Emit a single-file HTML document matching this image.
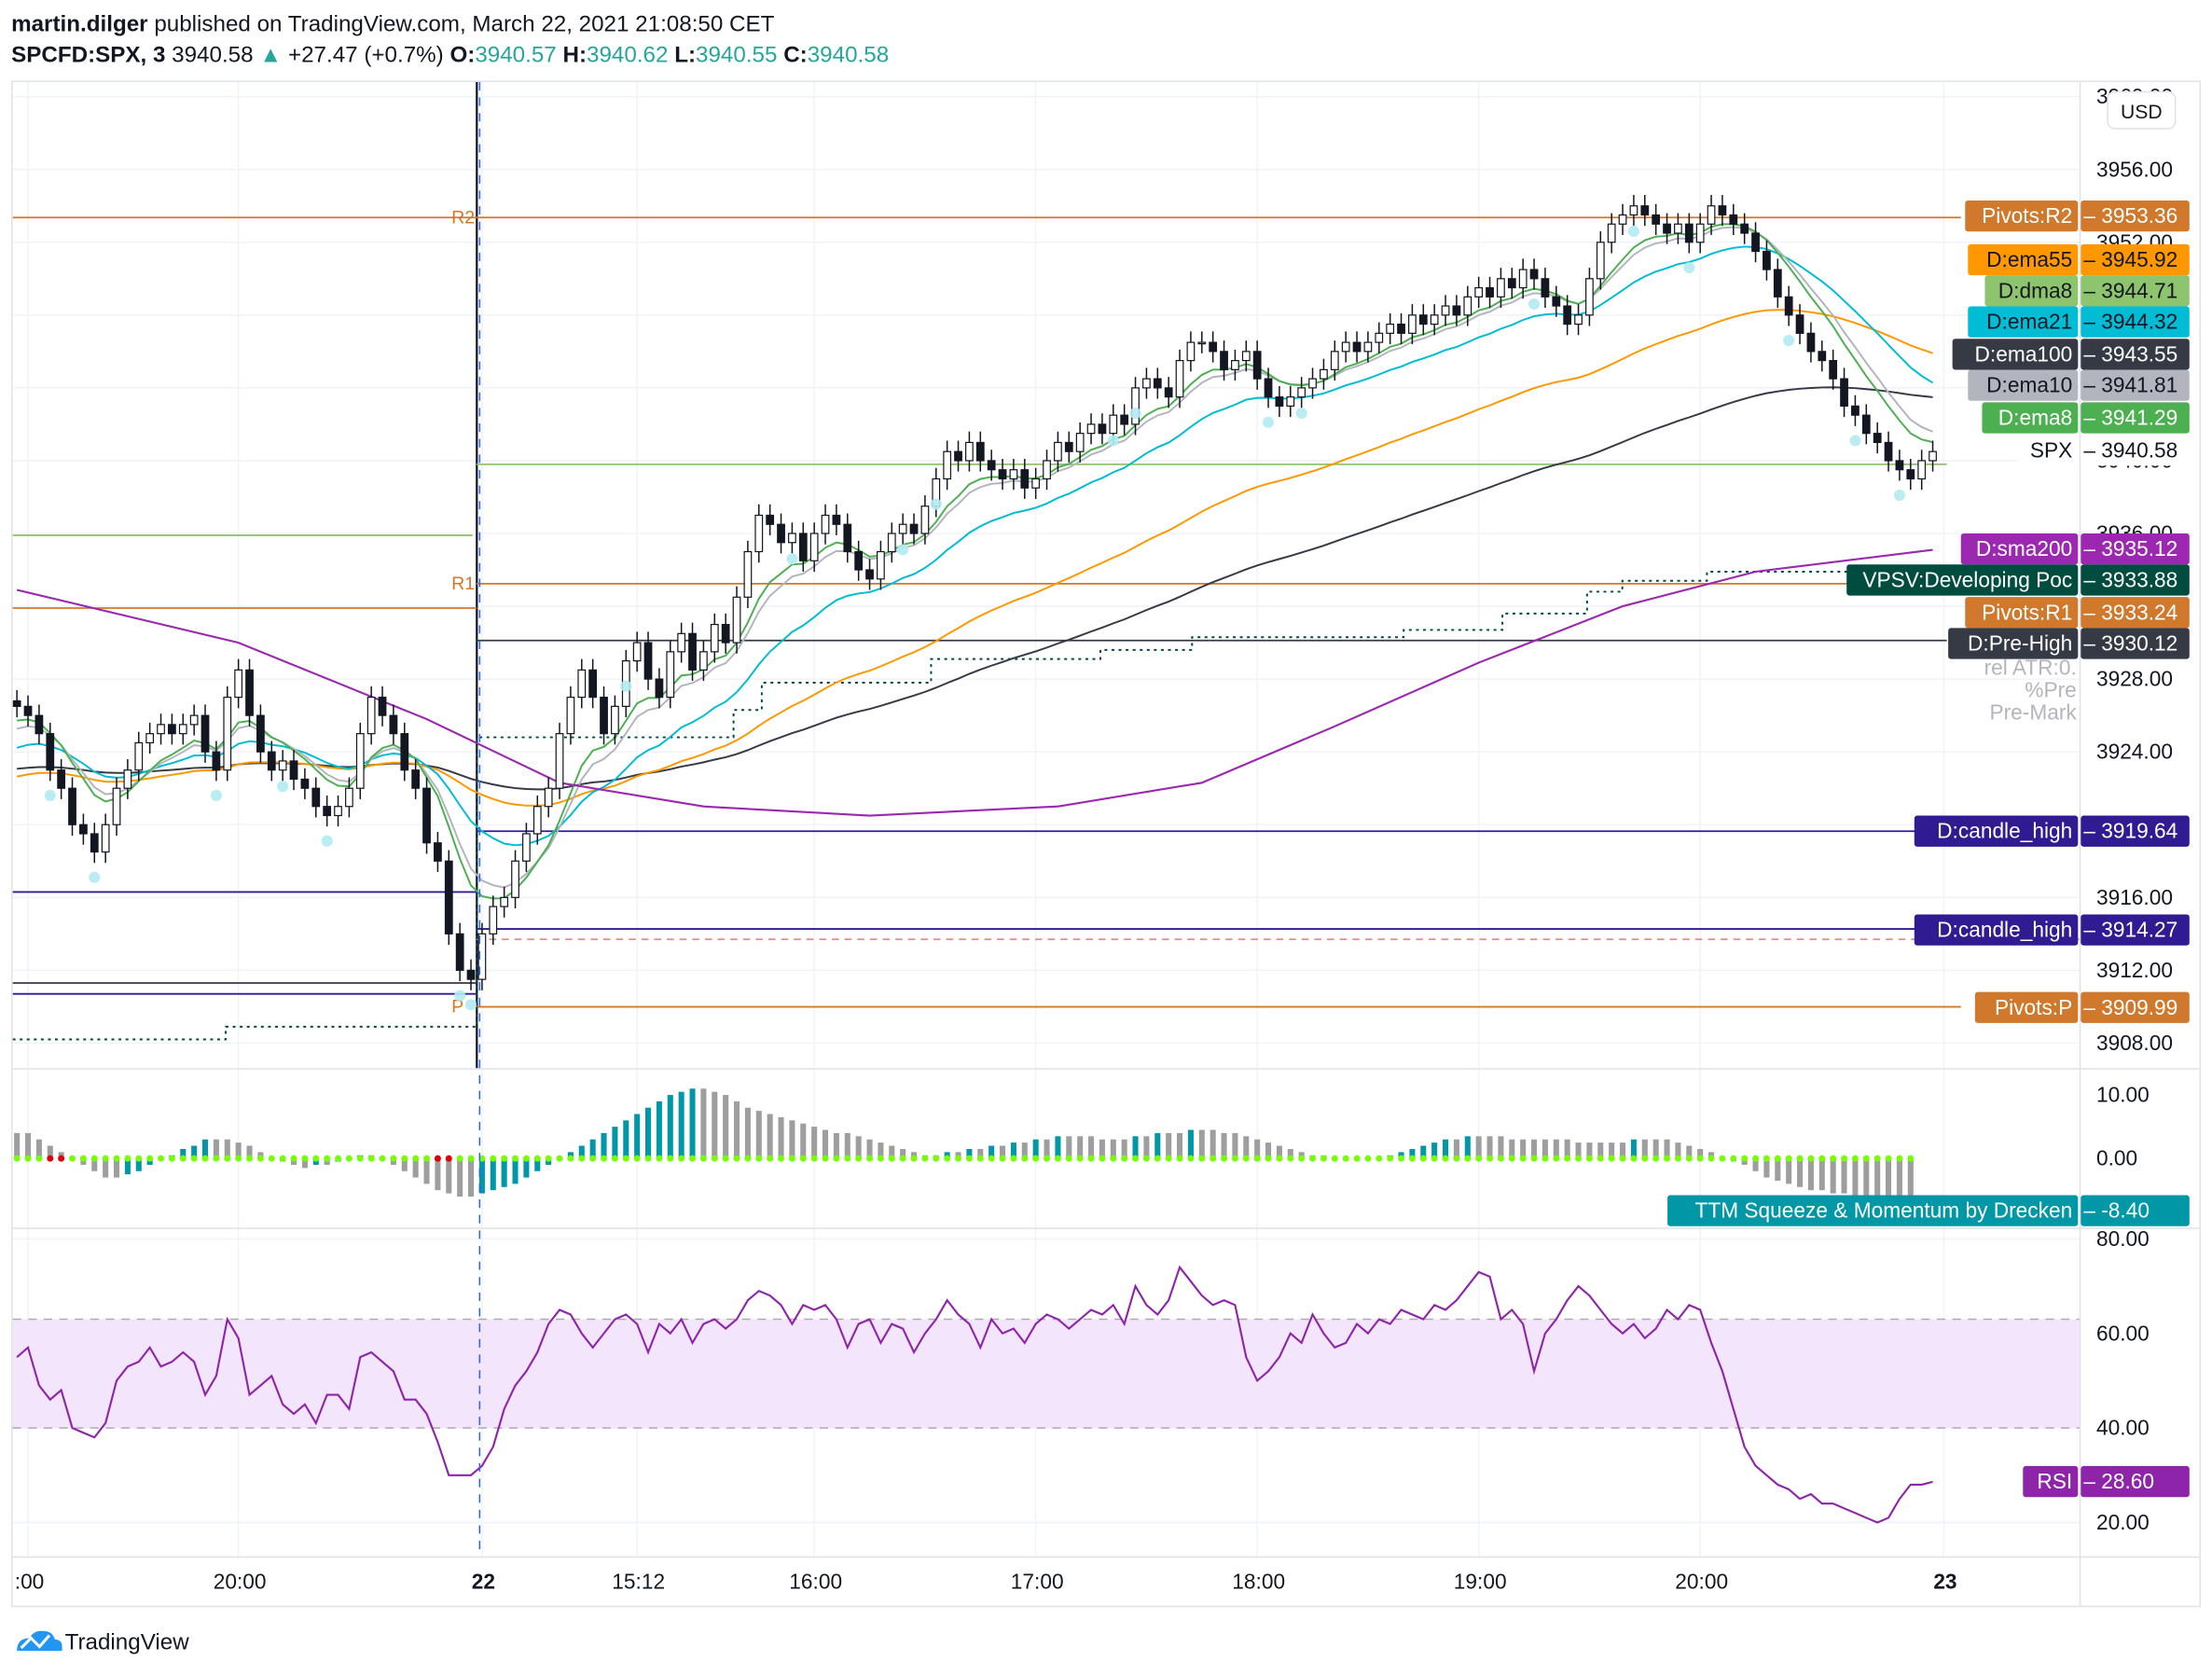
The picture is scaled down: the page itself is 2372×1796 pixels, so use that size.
<!DOCTYPE html>
<html><head><meta charset="utf-8">
<style>
html,body{margin:0;padding:0;background:#fff;}
svg{display:block;font-family:"Liberation Sans","DejaVu Sans",sans-serif;}
</style></head>
<body>
<svg id="c" width="2372" height="1796" viewBox="0 0 1568 1187" xmlns="http://www.w3.org/2000/svg">
<rect width="1568" height="1187" fill="#fff"/>
<text x="8" y="22" font-size="16" fill="#131722"><tspan font-weight="bold">martin.dilger</tspan> published on TradingView.com, March 22, 2021 21:08:50 CET</text>
<text x="8" y="44" font-size="16" fill="#131722"><tspan font-weight="bold">SPCFD:SPX, 3</tspan> 3940.58 <tspan fill="#26a69a">▲</tspan> +27.47 (+0.7%) <tspan font-weight="bold">O:</tspan><tspan fill="#26a69a">3940.57</tspan> <tspan font-weight="bold">H:</tspan><tspan fill="#26a69a">3940.62</tspan> <tspan font-weight="bold">L:</tspan><tspan fill="#26a69a">3940.55</tspan> <tspan font-weight="bold">C:</tspan><tspan fill="#26a69a">3940.58</tspan></text>
<rect x="8.5" y="57.5" width="1551" height="1081" fill="none" stroke="#dfe2ea"/>
<g id="grid"></g>
<g id="main" clip-path="url(#mc)"></g>
<g id="sq"></g>
<g id="rsi"></g>
<g id="axes"></g>
<g id="labels"></g>
<clipPath id="mc"><rect x="9" y="58" width="1465" height="699"/></clipPath>
<g>
<path d="M12 1170 q0-9 9-9 q3-6 10-5 q6 0 8 6 q5 0 5 5 v3 h-32z" fill="#2196f3"/>
<polyline points="15,1168 22,1161 28,1167 35,1159" fill="none" stroke="#fff" stroke-width="2"/>
<text x="46" y="1169" font-size="16" fill="#131722">TradingView</text>
</g>
</svg>
<script>
const closesPre=[3926.5,3926,3925,3923,3922,3920,3919.5,3918.5,3920,3922,3923,3924.5,3925,3925.5,3925,3925.5,3926,3924,3923,3927,3928.5,3926,3924,3923,3923.5,3922.5,3922,3921,3920.5,3921,3922,3925,3927,3926,3925,3923,3922,3919,3918,3914,3912,3911.5];
const closesSession=[3914,3915.5,3916,3918,3919.5,3921,3922,3925,3927,3928.5,
3927,3925,3926.5,3929,3930,3928,3927,3929.5,3930.5,3928.5,3929.5,3931,3930,3932.5,3935,
3937,3936.5,3935.5,3936,3934.5,3936,3937,3936.5,3935,3934,3933.5,3935,3936,3936.5,3936,
3937.5,3939,3940.5,3940,3941,3940,3939.5,3939,3939.5,3938.5,3939,3940,3941,3940.5,3941.5,
3942,3941.5,3942.5,3942,3944,3944.5,3944,3943.5,3945.5,3946.5,3946.5,3946,3945,3945.5,3946,
3944.5,3943.5,3943,3943.5,3944,3944.5,3945,3946,3946.5,3946,3946.5,3947,3947.5,3947,3948,
3947.5,3948,3948.5,3948,3949,3949.5,3949,3950,3949.5,3950.5,3950,3949,3948.5,3947.5,3948,
3950,3952,3953,3953.5,3954,3953.5,3953,3952.5,3953,3952,3953,3954,3953.5,3953,3952.5,
3951.5,3950.5,3949,3948,3947,3946,3945.5,3944.5,3943,3942.5,3941.5,3941,3940,3939.5,3939,3940,3940.5];
const sqzValues=[4,4,3,2,1,0,-1,-2,-3,-3,-2.5,-2,-1,0,0.5,1.5,2,3,3,3,2.5,2,1,0,-0.5,-1,-1.5,-1,-1,-0.5,0,0.5,0.5,0,-1,-2,-3,-4,-5,-5.5,-6,-6,
-5.5,-5,-4.5,-4,-3,-2,-1,0,1,2,3,4,5,6,7,8,9,10,10.5,11,11,10.5,10,9,8,7.5,7,6.5,6,5.5,5,4.5,4,4,3.5,3,2.5,2,1.5,1,0.5,0.5,1,1,1.5,1.5,2,2,2.5,2.5,3,3,3.5,3.5,3.5,3.5,3,3,3,3.5,3.5,4,4,4,4.5,4.5,4.5,4,4,3.5,3,2.5,2,1.5,1,0.5,0.5,0,0,0,0,0,0.5,1,1.5,2,2.5,3,3,3.5,3.5,3.5,3.5,3,3,3,3,3,3,2.5,2.5,2.5,2.5,2.5,3,3,3,3,2.5,2,1.5,1,0,-0.5,-1,-2,-3,-3.5,-4,-4.5,-5,-5,-5.5,-5.5,-6,-6,-6,-6,-6,-8.4];
const rsiPre=[55,57,49,46,48,40,39,38,41,50,53,54,57,53,54,56,54,47,51,63,59,47,49,51,45,43,45,41,47,47,44,55,56,54,52,46,46,43,37,30,30,30];
const rsiSession=[32,36,44,49,52,56,62,65,64,60,57,60,63,64,62,56,62,60,63,58,62,63,61,63,67,69,68,66,62,66,65,66,63,57,62,63,58,62,61,56,60,63,67,64,62,57,63,60,61,58,62,64,63,61,63,65,64,66,62,70,66,64,67,74,71,68,66,67,66,55,50,52,55,60,58,64,60,57,58,62,60,63,62,65,64,63,66,65,67,70,73,72,63,65,62,52,60,63,67,70,68,65,62,60,62,59,61,65,63,66,65,58,52,44,36,32,30,28,27,25,26,24,24,23,22,21,20,21,25,28,28,28.6];
const sma200Idx=[0,20,37,49,62,77,94,107,119,132,145,157,173];
const sma200Vals=[3932.9,3930,3925.8,3922.3,3921,3920.5,3921,3922.3,3925.4,3928.9,3932,3933.9,3935.1];
const priceTicks=[3960,3956,3952,3948,3944,3940,3936,3932,3928,3924,3920,3916,3912,3908];
const rsiTicks=[80,60,40,20];
const sqzTicks=[10,0];
const timeLabels=[":00","20:00","22","15:12","16:00","17:00","18:00","19:00","20:00","23"];
const timeBars=[1,20,42,56,72,92,112,132,152,174];
const levelNames=["R2","R1","P"];
const levelVals=[3953.36,3933.24,3909.99];

const NS="http://www.w3.org/2000/svg";
function mk(parent,tag,attrs){const e=document.createElementNS(NS,tag);for(const k in attrs)e.setAttribute(k,attrs[k]);parent.appendChild(e);return e;}
const closes=closesPre.concat(closesSession);
const rsi=rsiPre.concat(rsiSession);
const N=closes.length, STEP=7.85;
const X=i=>12+i*STEP;
const Y=p=>120+(3956-p)*12.9;
const YS=v=>821-v*4.5;
const YR=r=>1079-(r-20)*3.35;
const G=id=>document.getElementById(id);
const grid=G('grid'),main=G('main'),sq=G('sq'),rg=G('rsi'),ax=G('axes'),lb=G('labels');

priceTicks.forEach(p=>{const y=Y(p);if(y>60&&y<757){const l=mk(grid,'line',{x1:9,x2:1474,y1:y,y2:y,stroke:'#f0f3fa'});}});
timeBars.forEach(b=>{const x=X(b);const l=mk(grid,'line',{x1:x,x2:x,y1:58,y2:1103,stroke:'#f0f3fa'});});
rsiTicks.forEach(r=>{const l=mk(grid,'line',{x1:9,x2:1474,y1:YR(r),y2:YR(r),stroke:'#f0f3fa'});});
[757,870,1103].forEach(y=>{const l=mk(ax,'line',{x1:9,x2:1560,y1:y+0.5,y2:y+0.5,stroke:'#dfe2ea'});});
{const l=mk(ax,'line',{x1:1474.5,x2:1474.5,y1:58,y2:1138,stroke:'#dfe2ea'});}

{const l=mk(main,'line',{x1:338,x2:338,y1:58,y2:757,stroke:'#131722','stroke-width':1.5});}
{const l=mk(ax,'line',{x1:340,x2:340,y1:58,y2:1103,stroke:'#2962ff','stroke-dasharray':'6,5'});}

const S0=X(42)-4;
function hl(y,x1,x2,col,name,dash){const l=mk(main,'line',{x1:x1,x2:x2,y1:y,y2:y,stroke:col,'stroke-width':1.2});if(dash)l.setAttribute('stroke-dasharray',dash);}
hl(Y(levelVals[0]),9,1390,'#d0782b','pivot-r2-line');
hl(Y(levelVals[1]),S0,1390,'#d0782b','pivot-r1-line');
hl(Y(levelVals[2]),S0,1390,'#d0782b','pivot-p-line');
hl(Y(3931.9),9,338,'#d0782b','prev-pivot-r1-line');
hl(Y(3930.12),S0,1380,'#363a45','pre-high-line');
hl(Y(3919.64),S0,1380,'#311b92','candle-high-line-1');
hl(Y(3914.27),S0,1380,'#311b92','candle-high-line-2');
hl(Y(3916.3),9,338,'#311b92','prev-candle-high-line');
hl(Y(3911.3),9,338,'#363a45','prev-pre-high-line');
hl(Y(3910.7),9,338,'#311b92','prev-candle-high-line-2');
hl(Y(3913.7),S0,1474,'#f28b82','rel-level-line','5,4');
hl(Y(3939.8),S0,1380,'#8fc46e','dma8-line');
hl(Y(3935.9),9,335,'#8fc46e','prev-dma8-line');
[["R2",0],["R1",1],["P",2]].forEach(([n,k])=>{const t=mk(main,'text',{x:320,y:Y(levelVals[k])+4,'font-size':13,fill:'#d0782b'});t.textContent=n;});
const vpsvPts=[[9,3908.2],[160,3908.2],[160,3908.9],[338,3908.9],[338,3924.8],[520,3924.8],[520,3926.3],[540,3926.3],[540,3927.8],[660,3927.8],[660,3929.1],[780,3929.1],[780,3929.6],[845,3929.6],[845,3930.3],[995,3930.3],[995,3930.7],[1065,3930.7],[1065,3931.6],[1125,3931.6],[1125,3932.8],[1150,3932.8],[1150,3933.4],[1210,3933.4],[1210,3933.9],[1380,3933.9]];
{const p=mk(main,'polyline',{points:vpsvPts.map(q=>q[0]+','+Y(q[1])).join(' '),fill:'none',stroke:'#004d40','stroke-width':1.3,'stroke-dasharray':'2,3'});}

function ema(n,seed){const a=2/(n+1);let v=seed;return closes.map(c=>(v=v+a*(c-v)));}
function line(vals,col,name,w){const pts=vals.map((v,i)=>X(i)+','+Y(v).toFixed(1)).join(' ');const p=mk(main,'polyline',{points:pts,fill:'none',stroke:col,'stroke-width':w||1.3});}
line(ema(100,3923),'#363a45','ema100-line');
line(ema(55,3922.5),'#ff9800','ema55-line');
line(ema(21,3924),'#00bcd4','ema21-line');
line(ema(10,3925),'#b2b5be','ema10-line');
line(ema(8,3925.5),'#4caf50','ema8-line');
{const pts=sma200Idx.map((b,k)=>X(b)+','+Y(sma200Vals[k]).toFixed(1)).join(' ');const p=mk(main,'polyline',{points:pts,fill:'none',stroke:'#9c27b0','stroke-width':1.4});}

for(let i=0;i<N;i++){
 const c=closes[i],o=i?closes[i-1]:c+0.3;const up=c>=o;
 const hi=Math.max(o,c)+0.6,lo=Math.min(o,c)-0.6;const x=X(i);
 const g=mk(main,'g',{});
 
 
 mk(g,'line',{x1:x,x2:x,y1:Y(hi),y2:Y(lo),stroke:'#131722'});
 const y1=Y(Math.max(o,c)),h=Math.max(1,Y(Math.min(o,c))-y1);
 mk(g,'rect',{x:x-2.5,y:y1,width:5,height:h,fill:up?'#fff':'#131722',stroke:'#131722','stroke-width':0.8});
}
[3,7,18,24,28,40,41,55,70,80,83,99,101,113,116,137,146,151,160,166,170].forEach(i=>{if(i<N){const e=mk(main,'circle',{cx:X(i),cy:Y(closes[i])+18,r:4,fill:'#b2ebf2',opacity:0.9});}});

for(let i=0;i<sqzValues.length&&i<N;i++){
 const v=sqzValues[i],pv=i?sqzValues[i-1]:v;const x=X(i);
 const r=mk(sq,'rect',{x:x-2,y:Math.min(YS(v),YS(0)),width:4,height:Math.max(0.5,Math.abs(YS(v)-YS(0))),fill:v>pv?'#0097a7':'#9e9e9e'});
 
 
 const d=mk(sq,'circle',{cx:x,cy:YS(0),r:2.3,fill:(i==3||i==4||i==38||i==39)?'#e00000':'#76ff03'});
 
 
}
{const r=mk(rg,'rect',{x:9,y:YR(63),width:1465,height:YR(40)-YR(63),fill:'#f3e5fc'});}
[63,40].forEach(v=>{const l=mk(rg,'line',{x1:9,x2:1474,y1:YR(v),y2:YR(v),stroke:'#b0aab0','stroke-dasharray':'6,5'});});
{const pts=rsi.map((v,i)=>X(i)+','+YR(v).toFixed(1)).join(' ');const p=mk(rg,'polyline',{points:pts,fill:'none',stroke:'#8e24aa','stroke-width':1.4});}

function txt(par,x,y,s,opt){const t=mk(par,'text',Object.assign({x:x,y:y,'font-size':15,fill:'#131722'},opt||{}));t.textContent=s;return t;}
priceTicks.forEach(p=>{const y=Y(p);if(y>60&&y<757){const t=txt(ax,1486,y+5,p.toFixed(2));}});
sqzTicks.forEach(v=>{const t=txt(ax,1486,YS(v)+5,v.toFixed(2));});
rsiTicks.forEach(v=>{const t=txt(ax,1486,YR(v)+5,v.toFixed(2));});
timeLabels.forEach((s,k)=>{const t=txt(ax,X(timeBars[k])+1,1126,s,{'text-anchor':'middle','font-weight':(s=='22'||s=='23')?'bold':'normal'});});
{const r=mk(ax,'rect',{x:1494,y:65,width:48,height:26,rx:5,fill:'#fff',stroke:'#dfe2ea'});const t=txt(ax,1518,84,'USD',{'text-anchor':'middle','font-size':14});}

const tags=[["Pivots:R2","3953.36",153,"#d0782b","#fff",1393],["D:ema55","3945.92",184,"#ff9800","#131722",1395],["D:dma8","3944.71",206,"#8fc46e","#131722",1407],["D:ema21","3944.32",228,"#00bcd4","#131722",1395],["D:ema100","3943.55",251,"#363a45","#fff",1384],["D:ema10","3941.81",273,"#b2b5be","#131722",1395],["D:ema8","3941.29",296,"#4caf50","#fff",1405],["SPX","3940.58",319,"#fff","#131722",1430],["D:sma200","3935.12",389,"#9c27b0","#fff",1390],["VPSV:Developing Poc","3933.88",411,"#004d40","#fff",1309],["Pivots:R1","3933.24",434,"#d0782b","#fff",1393],["D:Pre-High","3930.12",456,"#363a45","#fff",1381],["D:candle_high","3919.64",589,"#311b92","#fff",1357],["D:candle_high","3914.27",659,"#311b92","#fff",1357],["Pivots:P","3909.99",714,"#d0782b","#fff",1400],["TTM Squeeze & Momentum by Drecken","-8.40",858,"#0097a7","#fff",1182],["RSI","28.60",1050,"#8e24aa","#fff",1434]];
tags.forEach(t=>{const [n,v,y,bg,fg,x0]=t;const g=mk(lb,'g',{});
 
 
 mk(g,'rect',{x:x0,y:y-11,width:1473-x0,height:22,rx:2,fill:bg});
 mk(g,'rect',{x:1475,y:y-11,width:77,height:22,rx:2,fill:bg});
 txt(g,1469,y+5,n,{'text-anchor':'end',fill:fg});
 txt(g,1477,y+5,'– '+v,{fill:fg});
});
{const t=txt(lb,1472,478,'rel ATR:0.',{'text-anchor':'end',fill:'#b2b5be'});}
{const t=txt(lb,1472,494,'%Pre',{'text-anchor':'end',fill:'#b2b5be'});}
{const t=txt(lb,1472,510,'Pre-Mark',{'text-anchor':'end',fill:'#b2b5be'});}
</script>
</body></html>
